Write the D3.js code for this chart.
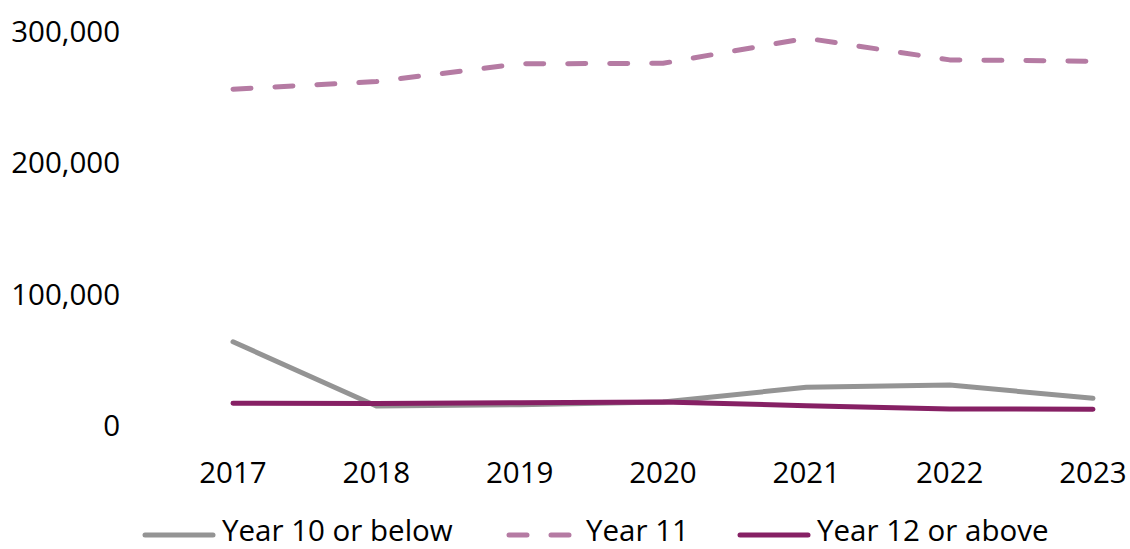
<!DOCTYPE html>
<html>
<head>
<meta charset="utf-8">
<script src="https://cdn.jsdelivr.net/npm/d3@7"></script>
<style>
  body { margin: 0; background: #fff; }
  text { font-family: "Open Sans", sans-serif; fill: #000; }
</style>
</head>
<body>
<svg id="chart" width="1130" height="549"></svg>
<script>
const years = ["2017", "2018", "2019", "2020", "2021", "2022", "2023"];
const year10 = [63400, 14500, 15500, 17500, 28700, 30500, 20300];
const year11 = [255700, 261500, 275000, 275400, 294500, 278000, 277000];
const year12 = [16500, 16300, 17000, 17500, 14700, 12200, 12000];
const yTicks = [0, 100000, 200000, 300000];

const series = [
  { name: "Year 10 or below", values: year10, color: "#949494", dash: null },
  { name: "Year 11", values: year11, color: "#b57ba3", dash: "18,24" },
  { name: "Year 12 or above", values: year12, color: "#862064", dash: null }
];

const svg = d3.select("svg#chart");
const fontSize = "29.5px";

const x = d3.scalePoint().domain(years).range([233, 1093]);
const y = d3.scaleLinear().domain([0, 300000]).range([425, 31]);

// y axis labels, no axis line
svg.append("g")
  .selectAll("text")
  .data(yTicks)
  .enter()
  .append("text")
  .attr("x", 120)
  .attr("y", d => y(d) + 11)
  .attr("text-anchor", "end")
  .style("font-size", fontSize)
  .text(d => d3.format(",")(d));

// x axis labels
svg.append("g")
  .selectAll("text")
  .data(years)
  .enter()
  .append("text")
  .attr("x", d => x(d))
  .attr("y", 483)
  .attr("text-anchor", "middle")
  .style("font-size", fontSize)
  .text(d => d);

const line = d3.line()
  .x((d, i) => x(years[i]))
  .y(d => y(d));

// year 11 first, then year 10, year 12 on top
[series[1], series[0], series[2]].forEach(function(s) {
  svg.append("path")
    .datum(s.values)
    .attr("d", line)
    .attr("fill", "none")
    .attr("stroke", s.color)
    .attr("stroke-width", 5)
    .attr("stroke-linecap", "round")
    .attr("stroke-linejoin", "round")
    .attr("stroke-dasharray", s.dash);
});

// legend
const legendX = [145, 509, 740];
const legend = svg.append("g")
  .selectAll("g")
  .data(series)
  .enter()
  .append("g")
  .attr("transform", (d, i) => translate(legendX[i], 535));

legend.append("line")
  .attr("x1", 0)
  .attr("x2", 68)
  .attr("stroke", d => d.color)
  .attr("stroke-width", 5)
  .attr("stroke-linecap", "round")
  .attr("stroke-dasharray", d => d.dash);

legend.append("text")
  .attr("x", 77)
  .attr("y", 6)
  .style("font-size", fontSize)
  .text(d => d.name);

function translate(x, y) {
  return "translate(" + String(x) + "," + String(y) + ")";
}
</script>
</body>
</html>
